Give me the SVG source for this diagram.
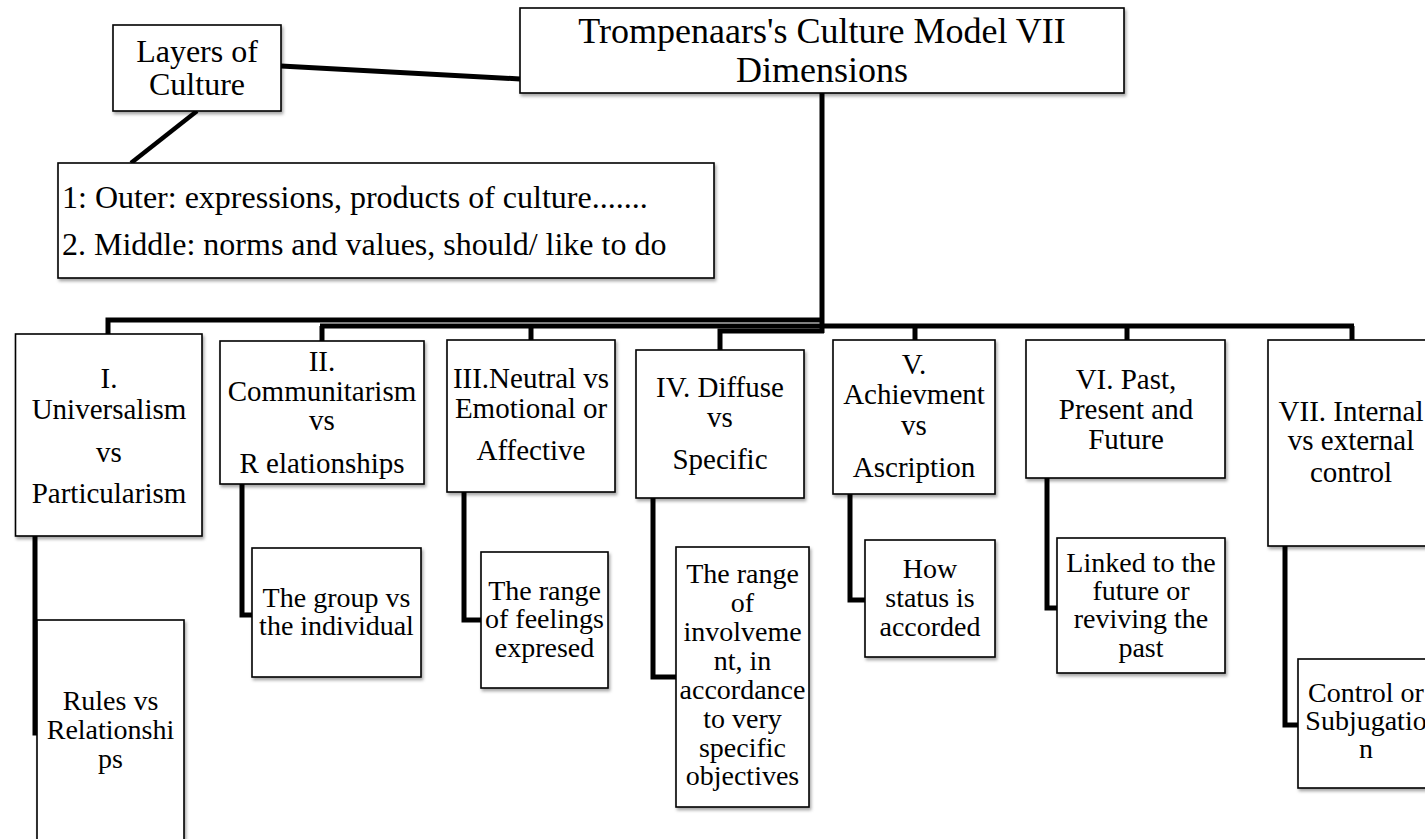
<svg xmlns="http://www.w3.org/2000/svg" width="1425" height="839" viewBox="0 0 1425 839">
<style>
.box{fill:#fff;stroke:#000;stroke-width:1.6;filter:url(#sh)}
.c{fill:none;stroke:#000;stroke-width:5;stroke-linejoin:miter;stroke-linecap:butt}
text{font-family:"Liberation Serif","Times New Roman",serif;fill:#000}
.t{font-size:36px;text-anchor:middle}
.l{font-size:32px}
.m{font-size:29px;text-anchor:middle}
.s{font-size:28px;text-anchor:middle}
</style>
<defs>
<filter id="sh" x="-5%" y="-5%" width="115%" height="115%">
<feDropShadow dx="1.5" dy="2.5" stdDeviation="1.5" flood-color="#000" flood-opacity="0.35"/>
</filter>
</defs>
<g id="connectors">
<line class="c" x1="281" y1="66" x2="520" y2="79"/>
<line class="c" x1="197" y1="111" x2="131" y2="163" style="stroke-width:4.5"/>
<line class="c" x1="822" y1="93" x2="822" y2="333"/>
<polyline class="c" points="108,334 108,320 824,320"/>
<line class="c" x1="320" y1="326" x2="1354" y2="326"/>
<line class="c" x1="322" y1="326" x2="322" y2="341"/>
<line class="c" x1="531" y1="326" x2="531" y2="340"/>
<line class="c" x1="915" y1="326" x2="915" y2="340"/>
<line class="c" x1="1127" y1="326" x2="1127" y2="340"/>
<line class="c" x1="1352" y1="326" x2="1352" y2="340"/>
<polyline class="c" points="824,331 720,331 720,350"/>
<polyline class="c" points="35,536 35,733 38,733"/>
<polyline class="c" points="242,484 242,615 252,615"/>
<polyline class="c" points="464,492 464,620 481,620"/>
<polyline class="c" points="653,498 653,677 676,677"/>
<polyline class="c" points="850,494 850,600 865,600"/>
<polyline class="c" points="1047,478 1047,608 1057,608"/>
<polyline class="c" points="1285,546 1285,725 1298,725"/>
</g>
<g id="title">
<rect class="box" x="520" y="8" width="604" height="85"/>
<text class="t" x="822" y="43">Trompenaars's Culture Model VII</text>
<text class="t" x="822" y="82">Dimensions</text>
</g>
<g id="layers">
<rect class="box" x="113" y="25" width="168" height="86"/>
<text class="l" x="197" y="62" text-anchor="middle">Layers of</text>
<text class="l" x="197" y="95" text-anchor="middle">Culture</text>
</g>
<g id="layers-list">
<rect class="box" x="58" y="163" width="656" height="115"/>
<text class="l" x="62" y="208">1: Outer: expressions, products of culture.......</text>
<text class="l" x="62" y="255">2. Middle: norms and values, should/ like to do</text>
</g>
<g id="dim1">
<rect class="box" x="15.5" y="334" width="186.5" height="202"/>
<text class="m" x="109" y="388">I.</text>
<text class="m" x="109" y="419">Universalism</text>
<text class="m" x="109" y="462">vs</text>
<text class="m" x="109" y="503">Particularism</text>
</g>
<g id="dim2">
<rect class="box" x="220" y="341" width="204" height="143"/>
<text class="m" x="322" y="371">II.</text>
<text class="m" x="322" y="401">Communitarism</text>
<text class="m" x="322" y="430">vs</text>
<text class="m" x="322" y="473">R elationships</text>
</g>
<g id="dim3">
<rect class="box" x="447" y="340" width="168" height="152"/>
<text class="m" x="531" y="388">III.Neutral vs</text>
<text class="m" x="531" y="418">Emotional or</text>
<text class="m" x="531" y="460">Affective</text>
</g>
<g id="dim4">
<rect class="box" x="636" y="350" width="168" height="148"/>
<text class="m" x="720" y="397">IV. Diffuse</text>
<text class="m" x="720" y="427">vs</text>
<text class="m" x="720" y="469">Specific</text>
</g>
<g id="dim5">
<rect class="box" x="833" y="340" width="162" height="154"/>
<text class="m" x="914" y="374">V.</text>
<text class="m" x="914" y="404">Achievment</text>
<text class="m" x="914" y="435">vs</text>
<text class="m" x="914" y="477">Ascription</text>
</g>
<g id="dim6">
<rect class="box" x="1026" y="340" width="199" height="138"/>
<text class="m" x="1126" y="389">VI. Past,</text>
<text class="m" x="1126" y="419">Present and</text>
<text class="m" x="1126" y="449">Future</text>
</g>
<g id="dim7">
<rect class="box" x="1268" y="340" width="170" height="206"/>
<text class="m" x="1351" y="421">VII. Internal</text>
<text class="m" x="1351" y="450">vs external</text>
<text class="m" x="1351" y="482">control</text>
</g>
<g id="sub1">
<rect class="box" x="37" y="620" width="147" height="235"/>
<text class="s" x="110.5" y="710">Rules vs</text>
<text class="s" x="110.5" y="739">Relationshi</text>
<text class="s" x="110.5" y="768">ps</text>
</g>
<g id="sub2">
<rect class="box" x="252" y="548" width="169" height="129"/>
<text class="s" x="336.5" y="607">The group vs</text>
<text class="s" x="336.5" y="635">the individual</text>
</g>
<g id="sub3">
<rect class="box" x="481" y="552" width="127" height="136"/>
<text class="s" x="544.5" y="600">The range</text>
<text class="s" x="544.5" y="628">of feelings</text>
<text class="s" x="544.5" y="657">expresed</text>
</g>
<g id="sub4">
<rect class="box" x="676" y="547" width="133" height="260"/>
<text class="s" x="742.5" y="583">The range</text>
<text class="s" x="742.5" y="612">of</text>
<text class="s" x="742.5" y="641">involveme</text>
<text class="s" x="742.5" y="670">nt, in</text>
<text class="s" x="742.5" y="699">accordance</text>
<text class="s" x="742.5" y="728">to very</text>
<text class="s" x="742.5" y="757">specific</text>
<text class="s" x="742.5" y="785">objectives</text>
</g>
<g id="sub5">
<rect class="box" x="865" y="540" width="130" height="117"/>
<text class="s" x="930" y="578">How</text>
<text class="s" x="930" y="607">status is</text>
<text class="s" x="930" y="636">accorded</text>
</g>
<g id="sub6">
<rect class="box" x="1057" y="538" width="168" height="135"/>
<text class="s" x="1141" y="572">Linked to the</text>
<text class="s" x="1141" y="600">future or</text>
<text class="s" x="1141" y="628">reviving the</text>
<text class="s" x="1141" y="657">past</text>
</g>
<g id="sub7">
<rect class="box" x="1298" y="659" width="140" height="129"/>
<text class="s" x="1366" y="702">Control or</text>
<text class="s" x="1366" y="730">Subjugatio</text>
<text class="s" x="1366" y="758">n</text>
</g>
</svg>
